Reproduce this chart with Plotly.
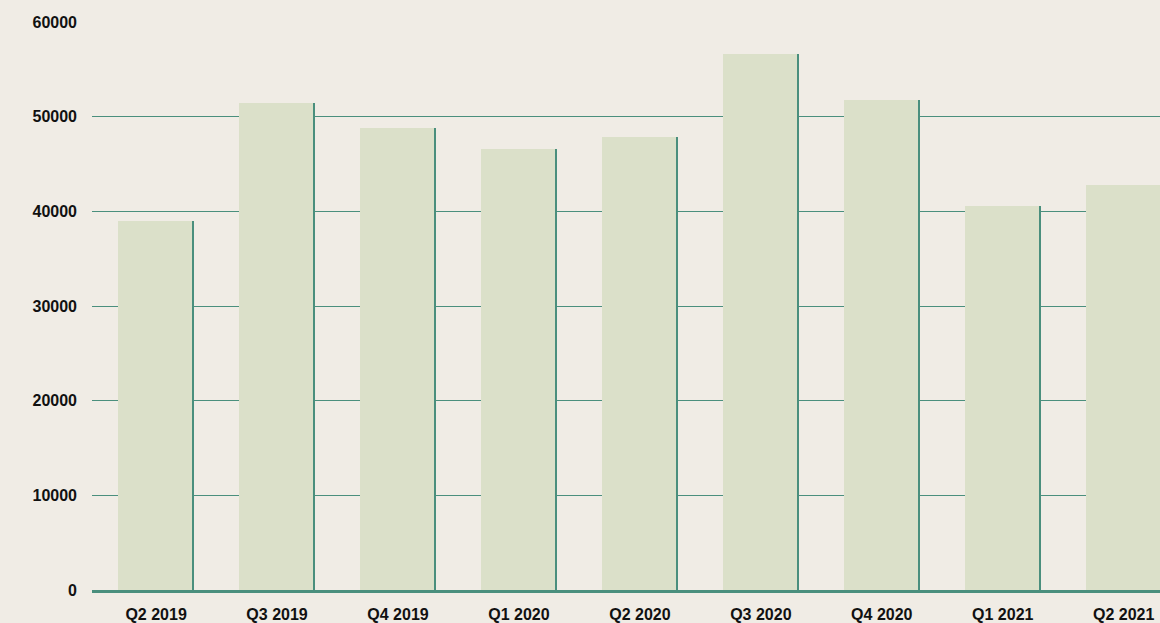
import plotly.graph_objects as go

categories = ["Q2 2019", "Q3 2019", "Q4 2019", "Q1 2020", "Q2 2020",
              "Q3 2020", "Q4 2020", "Q1 2021", "Q2 2021"]
values = [39000, 51400, 48800, 46600, 47850, 56600, 51750, 40550, 42800]
y_ticks = [0, 10000, 20000, 30000, 40000, 50000, 60000]

BG = "#f0ece5"
BAR = "#dbe0c9"
LINE = "#4a8f7d"

bar_w = 0.628
edge_w = 0.017

fig = go.Figure()
# dark edge layer (visible only as a thin line on the right side)
fig.add_trace(go.Bar(x=categories, y=values, width=bar_w, offset=-bar_w / 2,
                     marker=dict(color=LINE, line=dict(width=0)), hoverinfo="skip"))
# main light bar
fig.add_trace(go.Bar(x=categories, y=values, width=bar_w - edge_w, offset=-bar_w / 2,
                     marker=dict(color=BAR, line=dict(width=0))))

fig.update_layout(
    width=1160, height=623,
    margin=dict(l=92, r=0, t=22, b=33),
    paper_bgcolor=BG, plot_bgcolor=BG,
    barmode="overlay", showlegend=False, bargap=0,
    font=dict(family="Liberation Sans, Arial, sans-serif", size=16, color="#111111"),
    xaxis=dict(type="category", range=[-0.53, 8.30], showgrid=False,
               tickfont=dict(size=16, weight="bold"), ticks="", ticklabelstandoff=8,
               zeroline=False, showline=True, linecolor=LINE, linewidth=3,
               layer="above traces"),
    yaxis=dict(range=[0, 60000], tickvals=y_ticks, ticktext=[str(v) for v in y_ticks],
               showgrid=True, gridcolor=LINE, gridwidth=1,
               zeroline=False,
               tickfont=dict(size=16, weight="bold"), ticklabelstandoff=14,
               showline=False),
)

fig.write_html("out.html", config={"displayModeBar": False},
               post_script="document.body.style.margin='0';document.body.style.overflow='hidden';")
